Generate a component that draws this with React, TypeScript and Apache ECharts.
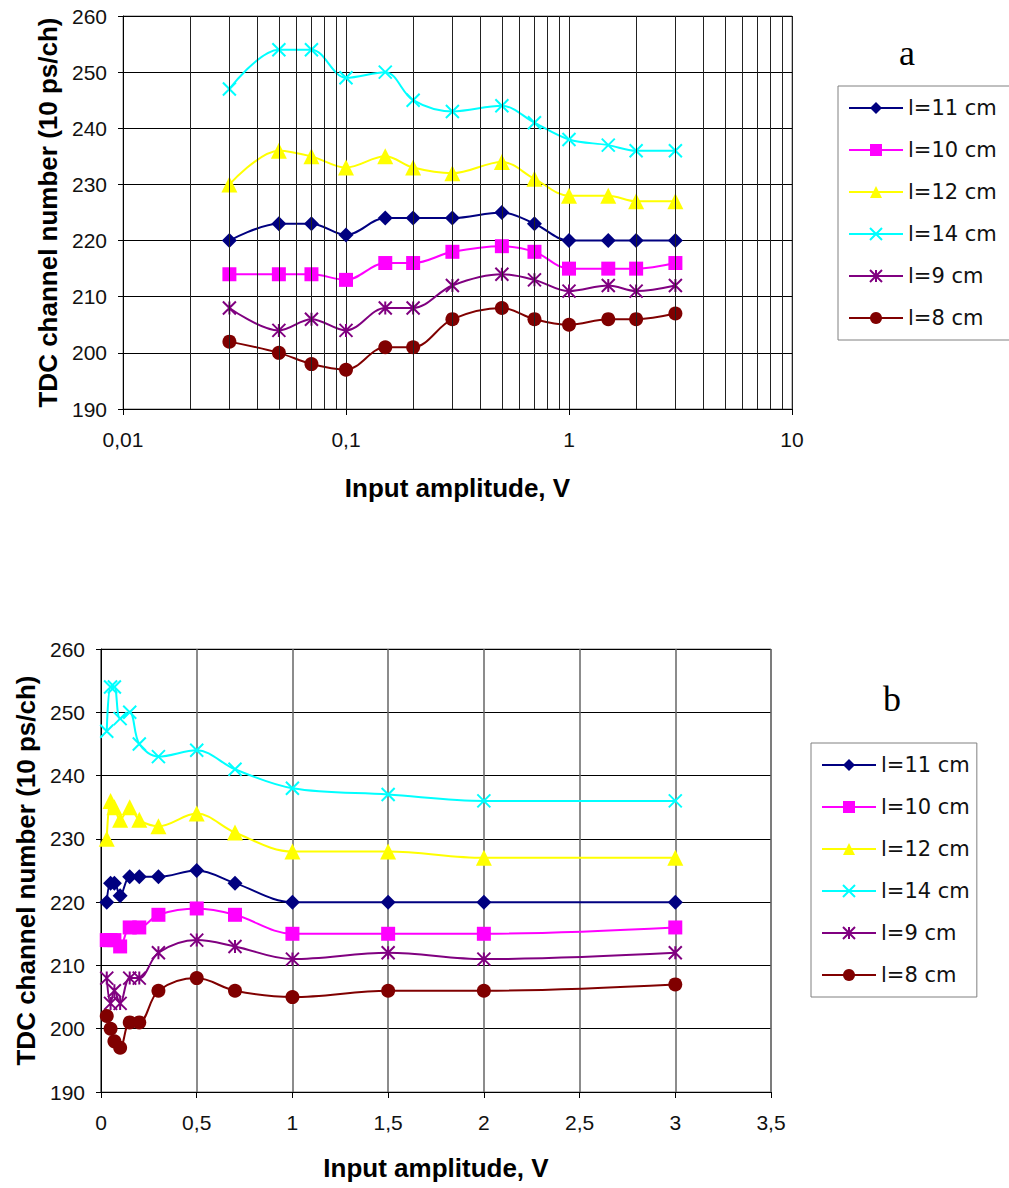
import React, { useEffect, useRef } from "react";
import * as echarts from "echarts";

const amplitudes = [0.03, 0.05, 0.07, 0.1, 0.15, 0.2, 0.3, 0.5, 0.7, 1, 1.5, 2, 3];

const l11 = [220, 223, 223, 221, 224, 224, 224, 225, 223, 220, 220, 220, 220];
const l10 = [214, 214, 214, 213, 216, 216, 218, 219, 218, 215, 215, 215, 216];
const l12 = [230, 236, 235, 233, 235, 233, 232, 234, 231, 228, 228, 227, 227];
const l14 = [247, 254, 254, 249, 250, 245, 243, 244, 241, 238, 237, 236, 236];
const l9 = [208, 204, 206, 204, 208, 208, 212, 214, 213, 211, 212, 211, 212];
const l8 = [202, 200, 198, 197, 201, 201, 206, 208, 206, 205, 206, 206, 207];

const seriesNames = ["l=11 cm", "l=10 cm", "l=12 cm", "l=14 cm", "l=9 cm", "l=8 cm"];
const seriesValues = [l11, l10, l12, l14, l9, l8];
const seriesColors = ["#000080", "#FF00FF", "#FFFF00", "#00FFFF", "#800080", "#800000"];

const X_PATH = "path://M0 0L10 10M10 0L0 10";
const STAR_PATH = "path://M5 0L5 10M0 0L10 10M10 0L0 10";
const seriesSymbols = ["diamond", "rect", "triangle", X_PATH, STAR_PATH, "circle"];
const seriesSymbolSizes = [15, 14, 16, 13, 13, 14];

// log-axis minor grid positions (2..9 within each decade)
const decades = [0.01, 0.1, 1];
const minorMultipliers = [2, 3, 4, 5, 6, 7, 8, 9];

const yTicks = { min: 190, max: 260, interval: 10 };

const labelFont = "Liberation Sans";
const commaFmt = (v: number) => String(Number(v.toPrecision(6))).replace(".", ",");

export default function App() {
  const ref = useRef<HTMLDivElement>(null);

  useEffect(() => {
    if (!ref.current) return;
    const chart = echarts.init(ref.current, null, { renderer: "svg" });

    const minorLines: any[] = [];
    decades.forEach((d) =>
      minorMultipliers.forEach((m) => minorLines.push({ xAxis: Number((d * m).toPrecision(6)) }))
    );

    const makeSeries = (gridIdx: number) =>
      seriesNames.map((name, i) => {
        const stroked = i === 3 || i === 4;
        return {
          type: "line",
          name,
          xAxisIndex: gridIdx,
          yAxisIndex: gridIdx,
          data: amplitudes.map((x, k) => [x, seriesValues[i][k]]),
          smooth: 0.35,
          symbol: seriesSymbols[i],
          symbolSize: seriesSymbolSizes[i],
          showSymbol: true,
          z: 3,
          lineStyle: { color: seriesColors[i], width: 2 },
          itemStyle: stroked
            ? { color: seriesColors[i], borderColor: seriesColors[i], borderWidth: 2 }
            : { color: seriesColors[i], borderWidth: 0 },
        };
      });

    const yAxisCommon = {
      type: "value",
      min: yTicks.min,
      max: yTicks.max,
      interval: yTicks.interval,
      nameLocation: "middle",
      nameRotate: 90,
      nameTextStyle: { fontFamily: labelFont, fontWeight: "bold", fontSize: 26, color: "#000" },
      axisLine: { show: true, lineStyle: { color: "#000", width: 1 } },
      axisTick: { show: true, length: 5, lineStyle: { color: "#000" } },
      axisLabel: { fontFamily: labelFont, fontSize: 21, color: "#111", margin: 16 },
      splitLine: { show: true, lineStyle: { color: "#000", width: 1 } },
    };

    const legendCommon = {
      orient: "vertical",
      data: seriesNames,
      itemWidth: 54,
      itemHeight: 15,
      itemGap: 20,
      borderColor: "#808080",
      borderWidth: 1,
      textStyle: { fontFamily: "DejaVu Sans", fontSize: 21, color: "#111", lineHeight: 22 },
      selectedMode: false,
    };

    const option: any = {
      animation: false,
      backgroundColor: "#fff",
      grid: [
        { left: 123, right: 1009 - 792, top: 16, bottom: 1188 - 409, show: true, borderColor: "#808080", borderWidth: 1 },
        { left: 101, right: 1009 - 771, top: 649, bottom: 1188 - 1092, show: true, borderColor: "#808080", borderWidth: 1 },
      ],
      xAxis: [
        {
          type: "log",
          gridIndex: 0,
          logBase: 10,
          min: 0.01,
          max: 10,
          name: "Input amplitude, V",
          nameLocation: "middle",
          nameGap: 66,
          nameTextStyle: { fontFamily: labelFont, fontWeight: "bold", fontSize: 26, color: "#000" },
          axisLine: { show: true, lineStyle: { color: "#000", width: 1 } },
          axisTick: { show: true, length: 6, lineStyle: { color: "#000" } },
          axisLabel: { fontFamily: labelFont, fontSize: 21, color: "#111", margin: 20, formatter: commaFmt },
          splitLine: { show: true, lineStyle: { color: "#222", width: 1 } },
        },
        {
          type: "value",
          gridIndex: 1,
          min: 0,
          max: 3.5,
          interval: 0.5,
          name: "Input amplitude, V",
          nameLocation: "middle",
          nameGap: 63,
          nameTextStyle: { fontFamily: labelFont, fontWeight: "bold", fontSize: 26, color: "#000" },
          axisLine: { show: true, lineStyle: { color: "#000", width: 1 } },
          axisTick: { show: true, length: 6, lineStyle: { color: "#000" } },
          axisLabel: { fontFamily: labelFont, fontSize: 21, color: "#111", margin: 20, formatter: commaFmt },
          splitLine: { show: true, lineStyle: { color: "#666", width: 1.5 } },
        },
      ],
      yAxis: [
        { ...yAxisCommon, gridIndex: 0, name: "TDC channel number (10 ps/ch)", nameGap: 62 },
        { ...yAxisCommon, gridIndex: 1, name: "TDC channel number (10 ps/ch)", nameGap: 58 },
      ],
      legend: [
        { ...legendCommon, left: 838, top: 86, padding: [11, 30, 11, 10] },
        { ...legendCommon, left: 811, top: 743, padding: [11, 7, 11, 10] },
      ],
      graphic: [
        { type: "text", x: 907, y: 53, style: { text: "a", font: '36px "Liberation Serif"', fill: "#000", textAlign: "center", textVerticalAlign: "middle" } },
        { type: "text", x: 892, y: 699, style: { text: "b", font: '36px "Liberation Serif"', fill: "#000", textAlign: "center", textVerticalAlign: "middle" } },
      ],
      series: [
        {
          type: "line",
          name: "_minorGrid",
          xAxisIndex: 0,
          yAxisIndex: 0,
          data: [],
          z: 1,
          silent: true,
          markLine: {
            silent: true,
            symbol: ["none", "none"],
            label: { show: false },
            lineStyle: { color: "#222", width: 1, type: "solid" },
            emphasis: { disabled: true },
            data: minorLines,
          },
        },
        ...makeSeries(0),
        ...makeSeries(1),
      ],
    };

    chart.setOption(option);
    return () => chart.dispose();
  }, []);

  return (
    <div
      ref={ref}
      style={{ position: "absolute", left: 0, top: 0, width: 1009, height: 1188, background: "#fff" }}
    />
  );
}
